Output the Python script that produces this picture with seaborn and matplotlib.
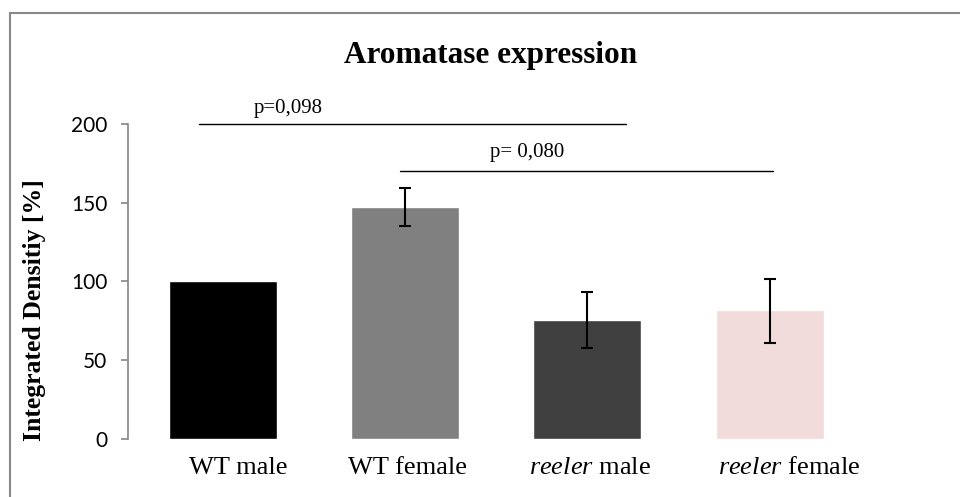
import matplotlib
matplotlib.use("Agg")
import matplotlib.pyplot as plt
from matplotlib.patches import Rectangle
import seaborn as sns
import pandas as pd

categories = ["WT male", "WT female", "reeler male", "reeler female"]
tick_labels = ["WT male", "WT female", r"$\mathit{reeler}$ male", r"$\mathit{reeler}$ female"]
values = [100, 147.3, 75.4, 81.8]
err_low = [None, 134.9, 57.5, 60.7]
err_high = [None, 159.4, 93.3, 101.6]
bar_colors = ["#000000", "#808080", "#404040", "#F2DCDB"]

# significance brackets: (x start, x end, level, label, label x, label y)
sig_lines = [(-0.13, 2.21, 200, "p=0,098", 0.36, 210),
             (0.97, 3.02, 170, "p= 0,080", 1.67, 182)]

sns.set_theme(style="white")
plt.rcParams["mathtext.fontset"] = "custom"
plt.rcParams["mathtext.rm"] = "Liberation Serif"
plt.rcParams["mathtext.it"] = "Liberation Serif:italic"
plt.rcParams["text.color"] = "black"
plt.rcParams["axes.labelcolor"] = "black"
plt.rcParams["ytick.labelcolor"] = "black"

df = pd.DataFrame({"group": categories, "value": values})

fig = plt.figure(figsize=(9.6, 4.97), dpi=100)
# outer chart border (cut off at right and bottom)
fig.patches.append(Rectangle((10 / 960, -0.1), 1.2, 1.1 - 13 / 497, transform=fig.transFigure,
                             fill=False, edgecolor="#888888", linewidth=1.5))
ax = fig.add_axes([128 / 960, 58.3 / 497, 736.5 / 960, 314.7 / 497])

sns.barplot(data=df, x="group", y="value", hue="group", palette=bar_colors,
            width=0.593, legend=False, ax=ax, saturation=1)

for i, (lo, hi) in enumerate(zip(err_low, err_high)):
    if lo is None:
        continue
    ax.errorbar(i, values[i], yerr=[[values[i] - lo], [hi - values[i]]], fmt="none",
                ecolor="black", elinewidth=1.5, capsize=4.2, capthick=1.5)

for x0, x1, lvl, txt, tx, ty in sig_lines:
    ax.plot([x0, x1], [lvl, lvl], color="black", linewidth=1.0, clip_on=False)
    ax.text(tx, ty, txt, ha="center", va="center", fontsize=15,
            family="Liberation Serif", clip_on=False)

ax.set_xlim(-0.521, 3.521)
ax.set_ylim(0, 200)
ax.set_yticks([0, 50, 100, 150, 200])
ax.set_xticks(range(4), [""] * 4)
# category labels, slightly off-centre as in the original
label_dx = [11, 2, 2, 14]
for i, (txt, dx) in enumerate(zip(tick_labels, label_dx)):
    ax.annotate(txt, xy=(i, 0), xycoords=("data", "axes fraction"),
                xytext=(dx, -21), textcoords="offset points", ha="center", va="center",
                fontsize=19, family="Liberation Serif", annotation_clip=False)
for lab in ax.get_yticklabels():
    lab.set_family("Lato")
    lab.set_fontsize(15)

ax.tick_params(axis="x", length=0)
ax.tick_params(axis="y", left=True, length=5, width=1.2, color="#868686", labelcolor="black", pad=10)
for s in ["top", "right", "bottom"]:
    ax.spines[s].set_visible(False)
ax.spines["left"].set_color("#868686")
ax.spines["left"].set_linewidth(1.2)

ax.set_xlabel("")
ax.set_ylabel("Integrated Densitiy [%]", fontsize=18.5, fontweight="bold", family="Liberation Serif")
ax.yaxis.label.set_va("center")
ax.yaxis.set_label_coords(-0.127, 0.41)

fig.text(0.511, 0.888, "Aromatase expression", ha="center", va="center",
         fontsize=22.5, fontweight="bold", family="Liberation Serif")

fig.savefig("out.png", dpi=100)
